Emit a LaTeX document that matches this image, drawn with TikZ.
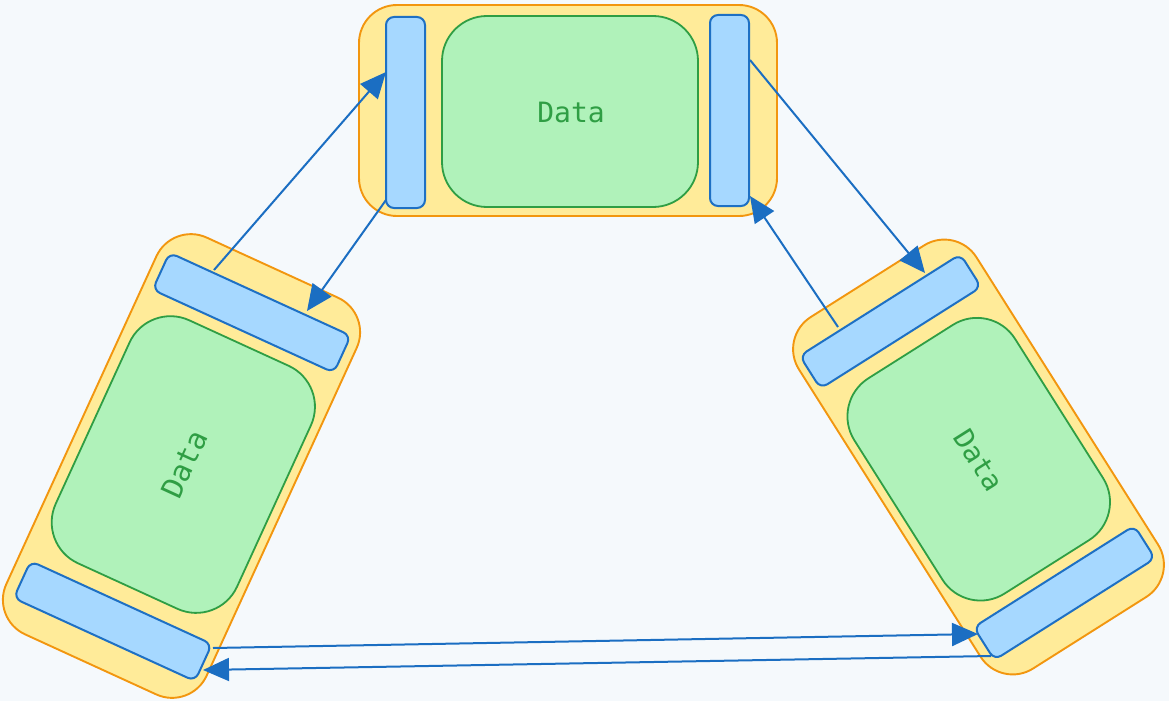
\documentclass[tikz,border=0pt]{standalone}
\usepackage{fontspec}
\newfontfamily\monofam{DejaVu Sans Mono}
\usetikzlibrary{arrows.meta}
\definecolor{bgc}{HTML}{F5F9FC}
\definecolor{outerfill}{HTML}{FFEB99}
\definecolor{outerline}{HTML}{F2960F}
\definecolor{barfill}{HTML}{A6D8FF}
\definecolor{barline}{HTML}{1E70C4}
\definecolor{greenfill}{HTML}{B0F2BA}
\definecolor{greenline}{HTML}{2F9E44}
\definecolor{conncol}{HTML}{1B6EC2}
\tikzset{
  outerbox/.style={draw=outerline, fill=outerfill, line width=1.9pt, rounded corners=38pt,
    minimum width=418pt, minimum height=211pt, inner sep=0pt, rectangle},
  barbox/.style={draw=barline, fill=barfill, line width=2pt, rounded corners=8pt,
    minimum width=39pt, inner sep=0pt, rectangle},
  greenbox/.style={draw=greenline, fill=greenfill, line width=1.8pt, rounded corners=45pt,
    minimum width=256pt, minimum height=191pt, inner sep=0pt, rectangle},
  datatext/.style={text=greenline, font=\monofam\fontsize{28}{33}\selectfont, inner sep=0pt},
  conn/.style={draw=conncol, line width=2pt, -{Triangle[length=26pt,width=23pt]}}
}
\newcommand\drawgroup[5]{%
  \begin{scope}[shift={(#2,-#3)},rotate=#4,scale=#5,transform shape]
    \node[outerbox] (#1) at (0,0) {};
    \node[barbox,minimum height=191pt] (#1-l) at (-162.5,-2) {};
    \node[barbox,minimum height=191pt] (#1-r) at (161.5,0) {};
    \node[greenbox] (#1-g) at (2,-1) {};
    \node[datatext] (#1-t) at (3,-1.5) {Data};
  \end{scope}}
\begin{document}
\begin{tikzpicture}[x=1pt,y=1pt]
  \fill[bgc] (0,0) rectangle (1169,-701);
  \useasboundingbox (0,0) rectangle (1169,-701);
  \drawgroup{top}{568}{110.5}{0}{1}
  \drawgroup{bl}{181.5}{466}{65.4}{1.044}
  \drawgroup{br}{978.5}{457}{-57.7}{0.995}
  % connector end points
  \coordinate (c1s) at (214,-270);
  \coordinate (c1e) at (386,-72);
  \coordinate (c2s) at (386,-200);
  \coordinate (c2e) at (307,-311);
  \coordinate (c3s) at (750,-60);
  \coordinate (c3e) at (925,-273);
  \coordinate (c4s) at (838,-327);
  \coordinate (c4e) at (750,-196);
  \coordinate (c5s) at (213,-648);
  \coordinate (c5e) at (978,-634);
  \coordinate (c6s) at (991,-656);
  \coordinate (c6e) at (203,-670);
  \draw[conn] (c1s) -- (c1e);
  \draw[conn] (c2s) -- (c2e);
  \draw[conn] (c3s) -- (c3e);
  \draw[conn] (c4s) -- (c4e);
  \draw[conn] (c5s) -- (c5e);
  \draw[conn] (c6s) -- (c6e);
\end{tikzpicture}
\end{document}
